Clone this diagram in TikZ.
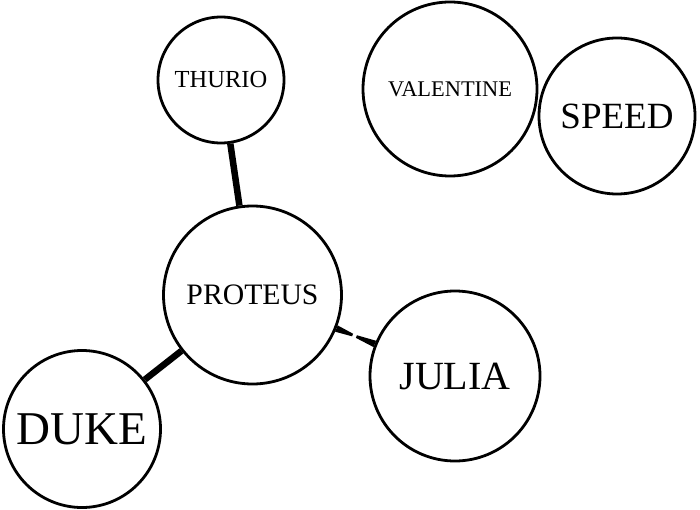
\documentclass[tikz,border=0pt]{standalone}
\usepackage{fontspec}
\setmainfont{Liberation Serif}
\usetikzlibrary{calc}

\begin{document}
\begin{tikzpicture}[
    x=1pt, y=-1pt,
    person/.style={circle, draw, line width=2.8pt, inner sep=0pt, fill=white},
    bond/.style={line width=6.5pt}
]
    \useasboundingbox (0,0) rectangle (700,510);

    \node [person, minimum size=126pt, font=\fontsize{24.5}{24.5}\selectfont] (thurio) at (221,80) {THURIO};
    \node [person, minimum size=174pt, font=\fontsize{22.4}{22.4}\selectfont] (valentine) at (450,89) {VALENTINE};
    \node [person, minimum size=156pt, font=\fontsize{37}{37}\selectfont] (speed) at (617,116) {SPEED};

    \node [person, minimum size=178pt, font=\fontsize{29.7}{29.7}\selectfont] (proteus) at (252.5,295) {PROTEUS};
    \node [person, minimum size=170pt, font=\fontsize{40}{40}\selectfont] (julia) at (455,376) {JULIA};
    \node [person, minimum size=157pt, font=\fontsize{47}{47}\selectfont] (duke) at (82,429) {DUKE};

    \draw [bond] (thurio) -- (proteus);
    \draw [bond] (duke) -- (proteus);

    % tapered tie between proteus and julia
    \path (proteus) -- (julia)
        coordinate[pos=0] (pj1) coordinate[pos=0.42] (pj2)
        coordinate[pos=0.52] (pj3) coordinate[pos=1] (pj4);
    \fill ($(pj1)!3.4pt!90:(pj2)$) -- ($(pj1)!3.4pt!-90:(pj2)$)
        -- ($(pj2)!1.4pt!90:(pj1)$) -- ($(pj2)!1.4pt!-90:(pj1)$) -- cycle;
    \fill ($(pj3)!1.4pt!90:(pj4)$) -- ($(pj3)!1.4pt!-90:(pj4)$)
        -- ($(pj4)!3.4pt!90:(pj3)$) -- ($(pj4)!3.4pt!-90:(pj3)$) -- cycle;

\end{tikzpicture}
\end{document}
